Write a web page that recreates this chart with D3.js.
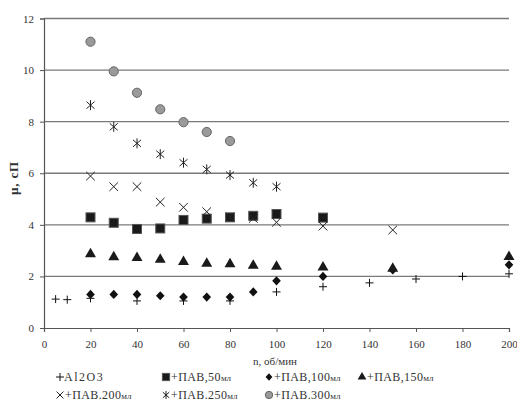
<!DOCTYPE html>
<meta charset="UTF-8">
<html>
<head>
<script src="https://d3js.org/d3.v7.min.js"></script>
<style>
body { margin: 0; background: #fff; }
.chart text { font-family: "Liberation Serif", "DejaVu Serif", serif; fill: #333; }
</style>
</head>
<body>
<svg class="chart" width="517" height="401"></svg>
<script>
// readings, n (об/мин) against µ (сП)
var al2o3_n = [5, 10, 20, 40, 60, 80, 100, 120, 140, 160, 180, 200];
var al2o3_v = [1.12, 1.1, 1.15, 1.05, 1.05, 1.05, 1.4, 1.6, 1.75, 1.9, 2.0, 2.1];
var pav50_n = [20, 30, 40, 50, 60, 70, 80, 90, 100, 120];
var pav50_v = [4.29, 4.08, 3.84, 3.86, 4.19, 4.24, 4.29, 4.35, 4.42, 4.28];
var pav100_n = [20, 30, 40, 50, 60, 70, 80, 90, 100, 120, 150, 200];
var pav100_v = [1.3, 1.3, 1.3, 1.25, 1.2, 1.2, 1.2, 1.4, 1.83, 2.0, 2.25, 2.45];
var pav150_n = [20, 30, 40, 50, 60, 70, 80, 90, 100, 120, 150, 200];
var pav150_v = [2.87, 2.75, 2.72, 2.65, 2.57, 2.5, 2.48, 2.42, 2.38, 2.35, 2.3, 2.76];
var pav200_n = [20, 30, 40, 50, 60, 70, 80, 90, 100, 120, 150];
var pav200_v = [5.89, 5.48, 5.48, 4.88, 4.68, 4.51, 4.3, 4.25, 4.1, 3.95, 3.8];
var pav250_n = [20, 30, 40, 50, 60, 70, 80, 90, 100];
var pav250_v = [8.64, 7.8, 7.16, 6.74, 6.41, 6.15, 5.93, 5.63, 5.48];
var pav300_n = [20, 30, 40, 50, 60, 70, 80];
var pav300_v = [11.1, 9.95, 9.12, 8.48, 7.98, 7.6, 7.25];

var xTicks = [0, 20, 40, 60, 80, 100, 120, 140, 160, 180, 200];
var yTicks = [0, 2, 4, 6, 8, 10, 12];

var seriesNames = ["+Al2O3", "+ПАВ,50", "+ПАВ,100", "+ПАВ,150", "+ПАВ.200", "+ПАВ.250", "+ПАВ.300"];
var seriesUnits = ["", "мл", "мл", "мл", "мл", "мл", "мл"];
var seriesN = [al2o3_n, pav50_n, pav100_n, pav150_n, pav200_n, pav250_n, pav300_n];
var seriesV = [al2o3_v, pav50_v, pav100_v, pav150_v, pav200_v, pav250_v, pav300_v];

var X = d3.scaleLinear().domain([0, 200]).range([44, 509]);
var Y = d3.scaleLinear().domain([0, 12]).range([328, 18.5]);

var svg = d3.select(".chart");

// marker drawing, one function per series
function marker(g, i, s) {
	s = s || 1;
	if (i === 0) {
		g.append("path").attr("d", "M" + (-4 * s) + ",0H" + (4 * s) + "M0," + (-4 * s) + "V" + (4 * s))
			.attr("stroke", "#111").attr("stroke-width", 1).attr("fill", "none");
	} else if (i === 1) {
		g.append("rect").attr("x", -4.5 * s).attr("y", -4.5 * s).attr("width", 9 * s).attr("height", 9 * s)
			.attr("fill", "#1a1a1a").attr("stroke", "#555").attr("stroke-width", 1);
	} else if (i === 2) {
		g.append("path").attr("d", "M0," + (-4.6 * s) + "L" + (4.3 * s) + ",0L0," + (4.6 * s) + "L" + (-4.3 * s) + ",0Z")
			.attr("fill", "#111");
	} else if (i === 3) {
		g.append("path").attr("d", d3.symbol(d3.symbolTriangle, 52 * s * s)())
			.attr("fill", "#1a1a1a");
	} else if (i === 4) {
		g.append("path").attr("d", "M" + (-4.3 * s) + "," + (-4.3 * s) + "L" + (4.3 * s) + "," + (4.3 * s) + "M" + (-4.3 * s) + "," + (4.3 * s) + "L" + (4.3 * s) + "," + (-4.3 * s))
			.attr("stroke", "#222").attr("stroke-width", 1).attr("fill", "none");
	} else if (i === 5) {
		g.append("path").attr("d", "M" + (-4 * s) + "," + (-3.5 * s) + "L" + (4 * s) + "," + (3.5 * s) + "M" + (-4 * s) + "," + (3.5 * s) + "L" + (4 * s) + "," + (-3.5 * s) + "M0," + (-5 * s) + "V" + (5 * s))
			.attr("stroke", "#222").attr("stroke-width", 1).attr("fill", "none");
	} else {
		g.append("circle").attr("r", 4.6 * s).attr("fill", "#9a9a9a").attr("stroke", "#666").attr("stroke-width", 1);
	}
}

// gridlines
svg.append("g").selectAll("line").data(yTicks.filter(function(t) { return t > 0; })).enter()
	.append("line")
	.attr("x1", X(0)).attr("x2", X(200))
	.attr("y1", function(t) { return Y(t); }).attr("y2", function(t) { return Y(t); })
	.attr("stroke", "#7a7a7a").attr("stroke-width", 1.3);

// axes
var yAxis = svg.append("g").attr("transform", "translate(" + X(0) + ",0)")
	.call(d3.axisLeft(Y).tickValues(yTicks).tickSize(4).tickPadding(6));
var xAxis = svg.append("g").attr("transform", "translate(0," + Y(0) + ")")
	.call(d3.axisBottom(X).tickValues(xTicks).tickSize(4).tickPadding(8));
[yAxis, xAxis].forEach(function(a) {
	a.select(".domain").attr("stroke", "#555").attr("stroke-width", 1.2);
	a.selectAll(".tick line").attr("stroke", "#555");
	a.selectAll("text").style("font-size", "11px").attr("fill", "#444");
});

// points
seriesN.forEach(function(ns, i) {
	var pts = ns.map(function(n, k) { return {n: n, v: seriesV[i][k]}; });
	svg.append("g").selectAll("g").data(pts).enter()
		.append("g")
		.attr("transform", function(d) { return "translate(" + X(d.n) + "," + Y(d.v) + ")"; })
		.each(function() { marker(d3.select(this), i); });
});

// axis titles
svg.append("text").attr("x", 275).attr("y", 365).attr("text-anchor", "middle")
	.style("font-size", "11px").text("n, об/мин");
svg.append("text").attr("transform", "translate(18,178) rotate(-90)").attr("text-anchor", "middle")
	.style("font-size", "13px").style("font-weight", "bold").style("letter-spacing", "0.8px").text("µ, сП");

// legend
var legX = [60, 60 + 106, 60 + 209, 60 + 302];
seriesNames.forEach(function(name, i) {
	var row = i < 4 ? 0 : 1;
	var col = i < 4 ? i : i - 4;
	var g = svg.append("g").attr("transform", "translate(" + legX[col] + "," + (row === 0 ? 377 : 395) + ")");
	marker(g.append("g"), i, i === 0 ? 1 : 0.8);
	var t = g.append("text").attr("x", i === 0 ? 4 : 5).attr("y", 4)
		.style("font-size", "12px").style("letter-spacing", i === 0 ? "1.5px" : "0.4px");
	t.append("tspan").text(i === 0 ? name.slice(1) : name);
	t.append("tspan").style("font-size", "9px").style("letter-spacing", "0px").text(seriesUnits[i]);
});
</script>
</body>
</html>
